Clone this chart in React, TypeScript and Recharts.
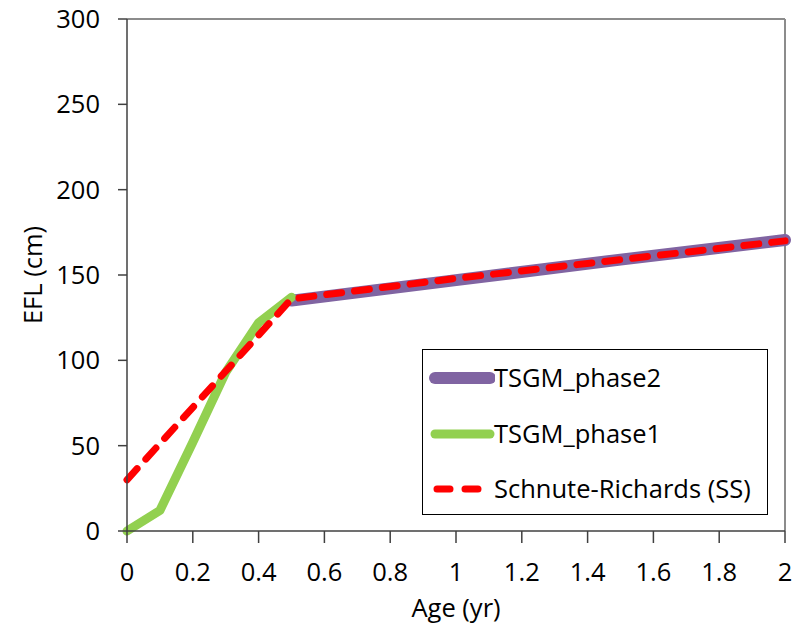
import React from 'react';
import { LineChart, Line, XAxis, YAxis, Legend, ReferenceLine, Label } from 'recharts';

const phase1Ages = [0, 0.1, 0.2, 0.3, 0.4, 0.5];
const phase1Efl = [0, 12, 52, 93, 122, 137];
const phase2Ages = [0.5, 1, 1.5, 2];
const phase2Efl = [135, 147, 159, 170.5];
const ssAges = [0, 0.5, 1, 1.5, 2];
const ssEfl = [30, 136, 148, 159, 170];
const xTicks = [0, 0.2, 0.4, 0.6, 0.8, 1, 1.2, 1.4, 1.6, 1.8, 2];
const yTicks = [0, 50, 100, 150, 200, 250, 300];
const seriesNames = ['TSGM_phase2', 'TSGM_phase1', 'Schnute-Richards (SS)'];
const seriesColors = ['#8064A2', '#92D050', '#FF0000'];

const phase1Data = phase1Ages.map((a, i) => ({ age: a, efl: phase1Efl[i] }));
const phase2Data = phase2Ages.map((a, i) => ({ age: a, efl: phase2Efl[i] }));
const ssData = ssAges.map((a, i) => ({ age: a, efl: ssEfl[i] }));

const FONT = '"Open Sans", Lato, sans-serif';
const FS = 25.5;

const LegendBox = () => {
  const rows = [28, 84, 139];
  return (
    <div
      style={{
        position: 'relative',
        width: 346,
        height: 166,
        border: '1px solid #000',
        boxSizing: 'border-box',
        background: '#fff',
        fontFamily: FONT,
        fontSize: FS,
        color: '#000',
      }}
    >
      {seriesNames.map((name, i) => (
        <div key={name} style={{ position: 'absolute', left: 0, top: rows[i] - 16, height: 32, width: 346 }}>
          <svg width={72} height={32} style={{ position: 'absolute', left: 0, top: 0 }}>
            {i < 2 ? (
              <line x1={12} y1={16} x2={67} y2={16} stroke={seriesColors[i]} strokeWidth={i === 0 ? 12 : 9} strokeLinecap="round" />
            ) : (
              <line x1={14} y1={16} x2={58} y2={16} stroke={seriesColors[i]} strokeWidth={7} strokeLinecap="round" strokeDasharray="13 15" />
            )}
          </svg>
          <div style={{ position: 'absolute', left: 71, top: -1, height: 32, lineHeight: '32px', whiteSpace: 'nowrap' }}>{name}</div>
        </div>
      ))}
    </div>
  );
};

export default function App() {
  return (
    <div style={{ position: 'absolute', left: 0, top: 0, width: 800, height: 627, background: '#fff', fontFamily: FONT }}>
      <LineChart width={800} height={627} margin={{ top: 19, right: 15, bottom: 0, left: 0 }}>
        <XAxis
          type="number"
          dataKey="age"
          domain={[0, 2]}
          ticks={xTicks}
          height={96}
          stroke="#404040"
          strokeWidth={1.5}
          tickSize={12}
          tickMargin={20}
          tick={{ fontSize: FS, fill: '#000', fontFamily: FONT }}
          allowDuplicatedCategory={false}
        >
          <Label
            content={({ viewBox }: any) => (
              <text x={viewBox.x + viewBox.width / 2} y={viewBox.y + 76} textAnchor="middle" dominantBaseline="central" fontSize={FS} fill="#000" fontFamily={FONT}>
                Age (yr)
              </text>
            )}
          />
        </XAxis>
        <YAxis
          type="number"
          domain={[0, 300]}
          ticks={yTicks}
          width={127}
          stroke="#404040"
          strokeWidth={1.5}
          tickSize={9}
          tickMargin={18}
          tick={{ fontSize: FS, fill: '#000', fontFamily: FONT }}
        >
          <Label
            content={({ viewBox }: any) => {
              const cx = viewBox.x + 32;
              const cy = viewBox.y + viewBox.height / 2;
              return (
                <text x={cx} y={cy} transform={`rotate(-90 ${cx} ${cy})`} textAnchor="middle" dominantBaseline="central" fontSize={FS} fill="#000" fontFamily={FONT}>
                  EFL (cm)
                </text>
              );
            }}
          />
        </YAxis>
        <ReferenceLine y={300} stroke="#8c8c8c" strokeWidth={2} ifOverflow="extendDomain" />
        <ReferenceLine x={2} stroke="#8c8c8c" strokeWidth={2} ifOverflow="extendDomain" />
        <Line
          data={phase2Data}
          dataKey="efl"
          name={seriesNames[0]}
          stroke={seriesColors[0]}
          strokeWidth={12}
          strokeLinecap="round"
          strokeLinejoin="round"
          dot={false}
          activeDot={false}
          isAnimationActive={false}
          type="linear"
        />
        <Line
          data={phase1Data}
          dataKey="efl"
          name={seriesNames[1]}
          stroke={seriesColors[1]}
          strokeWidth={9}
          strokeLinecap="round"
          strokeLinejoin="round"
          dot={false}
          activeDot={false}
          isAnimationActive={false}
          type="linear"
        />
        <Line
          data={ssData}
          dataKey="efl"
          name={seriesNames[2]}
          stroke={seriesColors[2]}
          strokeWidth={7}
          strokeLinecap="round"
          strokeLinejoin="round"
          strokeDasharray="15 13"
          dot={false}
          activeDot={false}
          isAnimationActive={false}
          type="linear"
        />
        <Legend
          layout="horizontal"
          verticalAlign="middle"
          align="center"
          wrapperStyle={{ left: 422, top: 349, width: 346, height: 166 }}
          content={() => <LegendBox />}
        />
      </LineChart>
    </div>
  );
}
